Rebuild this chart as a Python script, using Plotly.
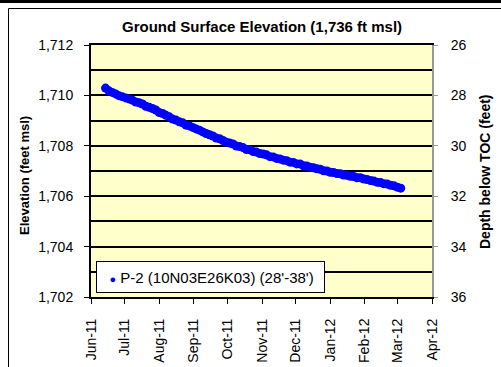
import pandas as pd
import plotly.graph_objects as go

# Well P-2 (10N03E26K03), screened 28'-38'; water level readings every 3 days
start_date = "2011-06-14"
elevation_ft = [
    1710.29, 1710.18, 1710.12, 1710.06, 1709.99, 1709.95,
    1709.90, 1709.86, 1709.81, 1709.74, 1709.71, 1709.66, 1709.57, 1709.53,
    1709.48, 1709.42, 1709.32, 1709.28, 1709.21, 1709.15, 1709.06,
    1709.02, 1708.95, 1708.91, 1708.82, 1708.79, 1708.73, 1708.67, 1708.62, 1708.55,
    1708.49, 1708.44, 1708.39, 1708.31, 1708.28, 1708.21, 1708.14,
    1708.11, 1708.07, 1707.99, 1707.97, 1707.93, 1707.85, 1707.84, 1707.77, 1707.75,
    1707.69, 1707.67, 1707.64, 1707.57, 1707.56, 1707.50, 1707.48, 1707.43, 1707.41,
    1707.35, 1707.34, 1707.28, 1707.28, 1707.21, 1707.20, 1707.15, 1707.13, 1707.09,
    1707.07, 1707.01, 1707.00,
    1706.95, 1706.94, 1706.90, 1706.89, 1706.84, 1706.83, 1706.79, 1706.78, 1706.73,
    1706.73, 1706.68, 1706.66, 1706.62, 1706.60, 1706.55, 1706.54, 1706.49, 1706.48,
    1706.43, 1706.41, 1706.36, 1706.32,
]
dates = pd.date_range(start_date, periods=len(elevation_ft), freq="3D")

# Top-of-casing reference: elevation + depth below TOC
toc_elev = 1738.0
depth_ft = [round(toc_elev - e, 2) for e in elevation_ft]

month_ticks = pd.date_range("2011-06-01", "2012-04-01", freq="MS")
elev_ticks = [1702, 1704, 1706, 1708, 1710, 1712]
elev_labels = ["1,702", "1,704", "1,706", "1,708", "1,710", "1,712"]
depth_ticks = [26, 28, 30, 32, 34, 36]

title_text = "Ground Surface Elevation (1,736 ft msl)"
left_title = "Elevation (feet msl)"
right_title = "Depth below TOC (feet)"
series_name = "P-2 (10N03E26K03) (28'-38')"
series_color = "#0000FF"

W, H = 501, 367
ML, MR, MT, MB = 91, 69, 45, 70
PW, PH = W - ML - MR, H - MT - MB
FONT = "Arial, Liberation Sans, sans-serif"


def px_x(x):
    return (x - ML) / PW


def px_y(y):
    return (H - MB - y) / PH


fig = go.Figure()
fig.add_trace(go.Scatter(
    x=dates, y=elevation_ft, mode="markers", name=series_name,
    marker=dict(color=series_color, size=9, line=dict(width=0)),
    showlegend=False,
))
fig.add_trace(go.Scatter(
    x=dates, y=depth_ft, mode="markers", yaxis="y2", showlegend=False,
    marker=dict(color="rgba(0,0,0,0)", size=1), hoverinfo="skip",
))

legend_text = (
    "&nbsp;&nbsp;&nbsp;"
    f"<span style='color:{series_color};font-size:11px'>●</span>"
    f"&nbsp;{series_name}"
)

fig.update_layout(
    width=W, height=H,
    margin=dict(l=ML, r=MR, t=MT, b=MB, pad=0),
    paper_bgcolor="white", plot_bgcolor="#FFFFCC",
    font=dict(family=FONT, size=14, color="black"),
    xaxis=dict(
        type="date", range=["2011-06-01", "2012-04-01"],
        tickvals=list(month_ticks), tickformat="%b-%y", tickangle=-90,
        ticks="outside", ticklen=5, tickcolor="black", tickwidth=1,
        showline=True, linecolor="black", linewidth=2, mirror=True,
        showgrid=False, zeroline=False, ticklabelstandoff=9,
        tickfont=dict(size=14), automargin=False,
    ),
    yaxis=dict(
        range=[1702, 1712], tickvals=elev_ticks, ticktext=elev_labels,
        ticks="outside", ticklen=5, tickcolor="black",
        showline=True, linecolor="black", linewidth=2,
        showgrid=True, gridcolor="black", gridwidth=1.7, zeroline=False,
        minor=dict(dtick=1, showgrid=True, gridcolor="black", gridwidth=1.7, ticks=""),
        ticklabelstandoff=8, tickfont=dict(size=14), automargin=False,
    ),
    yaxis2=dict(
        range=[36, 26], overlaying="y", side="right", tickvals=depth_ticks,
        ticks="outside", ticklen=4, tickcolor="#999999",
        showline=True, linecolor="#999999", linewidth=2,
        showgrid=False, zeroline=False, ticklabelstandoff=10,
        tickfont=dict(size=14), automargin=False,
    ),
    shapes=[
        dict(type="rect", xref="paper", yref="paper",
             x0=px_x(0), x1=px_x(W), y0=px_y(0), y1=px_y(3),
             fillcolor="black", line=dict(width=0), layer="above"),
        dict(type="line", xref="paper", yref="paper",
             x0=px_x(8.5), x1=px_x(W + 5), y0=px_y(8.5), y1=px_y(8.5),
             line=dict(color="black", width=1)),
        dict(type="line", xref="paper", yref="paper",
             x0=px_x(8.5), x1=px_x(8.5), y0=px_y(8.5), y1=px_y(H + 5),
             line=dict(color="black", width=1)),
    ],
    annotations=[
        dict(text=f"<b>{title_text}</b>", xref="paper", yref="paper",
             x=0.5, y=px_y(26), xanchor="center", yanchor="middle",
             showarrow=False, font=dict(size=15)),
        dict(text=f"<b>{left_title}</b>", xref="paper", yref="paper",
             x=px_x(25), y=px_y(176), xanchor="center", yanchor="middle",
             textangle=-90, showarrow=False, font=dict(size=13)),
        dict(text=f"<b>{right_title}</b>", xref="paper", yref="paper",
             x=px_x(485), y=px_y(172), xanchor="center", yanchor="middle",
             textangle=-90, showarrow=False, font=dict(size=14)),
        dict(text=legend_text, xref="paper", yref="paper",
             x=px_x(96), y=px_y(261), xanchor="left", yanchor="top",
             width=227, height=30, align="left", valign="middle",
             bgcolor="white", bordercolor="black", borderwidth=1, borderpad=0,
             showarrow=False, font=dict(size=15)),
    ],
)

fig.write_html("out.html")
